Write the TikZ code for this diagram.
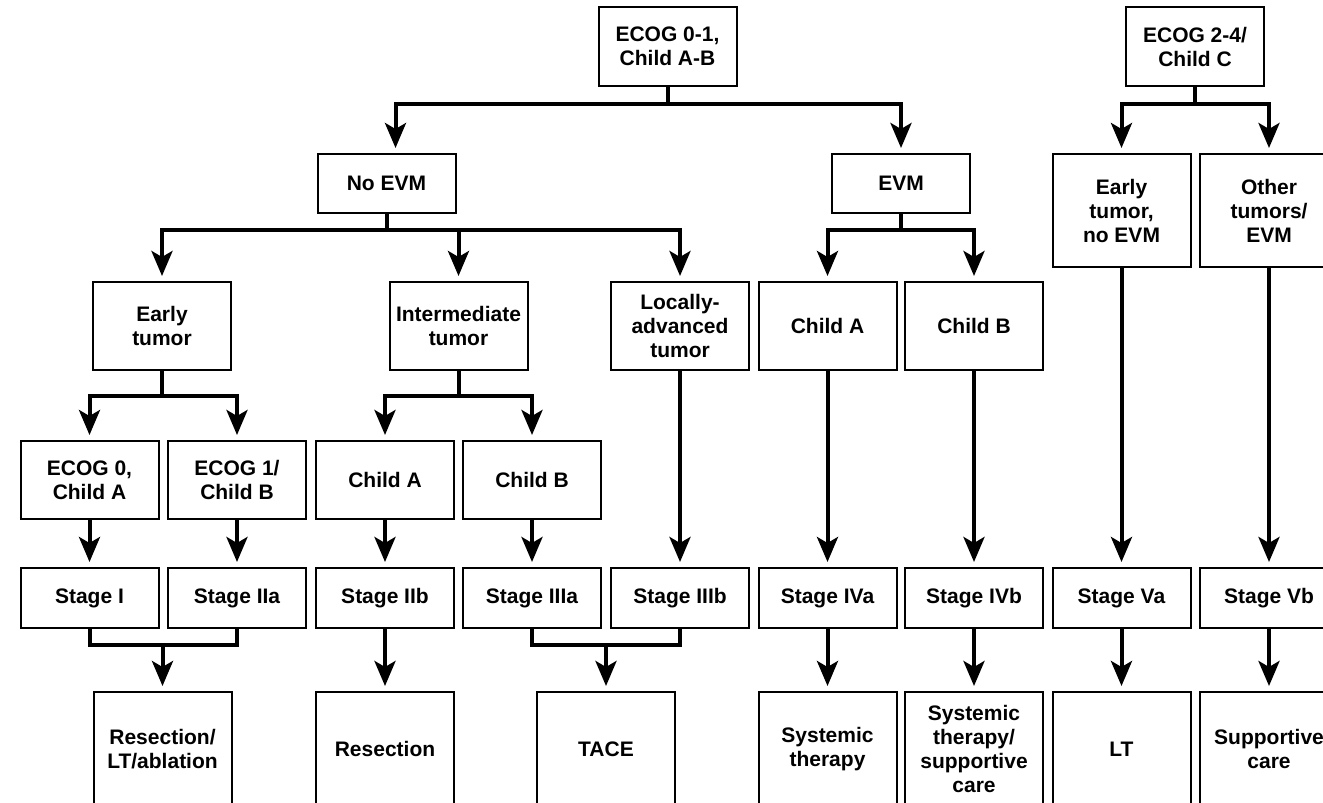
\documentclass[tikz,border=0pt]{standalone}
\usepackage{fontspec}
\setmainfont{Liberation Sans}
\usetikzlibrary{arrows.meta,calc}
\begin{document}
\begin{tikzpicture}[x=1pt,y=-1pt]
\tikzset{
  box/.style={draw, line width=2pt, rectangle, minimum width=138pt, inner sep=0pt,
    align=center, font=\fontsize{21}{24}\selectfont\bfseries},
  conn/.style={line width=4pt},
  arr/.style={conn, -{Stealth[length=25pt,width=21pt,inset=6pt]}, shorten >=5pt},
}
\fill[white] (0,0) rectangle (1323,803);
\useasboundingbox (0,0) rectangle (1323,803);
\clip (0,0) rectangle (1323,803);

% top level
\node[box, minimum height=79pt] (ecogA) at (667.5,46.5) {ECOG 0-1,\\Child A-B};
\node[box, minimum height=79pt] (ecogC) at (1195,46.5) {ECOG 2-4/\\Child C};

% second level
\node[box, minimum height=59pt] (noevm) at (386.5,183.5) {No EVM};
\node[box, minimum height=59pt] (evm) at (901,183.5) {EVM};
\node[box, minimum height=113pt] (earlyC) at (1121.5,210.5) {Early\\tumor,\\no EVM};
\node[box, minimum height=113pt] (other) at (1269,210.5) {Other\\tumors/\\EVM};

% tumour extent
\node[box, minimum height=88pt] (early) at (162,326) {Early\\tumor};
\node[box, minimum height=88pt] (inter) at (458.5,326) {Intermediate\\tumor};
\node[box, minimum height=88pt] (local) at (680,326) {Locally-\\advanced\\tumor};
\node[box, minimum height=88pt] (childA) at (827.5,326) {Child A};
\node[box, minimum height=88pt] (childB) at (974,326) {Child B};

% performance / liver function
\node[box, minimum height=78pt] (e0) at (89.5,480) {ECOG 0,\\Child A};
\node[box, minimum height=78pt] (e1) at (237,480) {ECOG 1/\\Child B};
\node[box, minimum height=78pt] (ca) at (385,480) {Child A};
\node[box, minimum height=78pt] (cb) at (532,480) {Child B};

% stages
\node[box, minimum height=60pt] (sI) at (89.5,598) {Stage I};
\node[box, minimum height=60pt] (sIIa) at (237,598) {Stage IIa};
\node[box, minimum height=60pt] (sIIb) at (385,598) {Stage IIb};
\node[box, minimum height=60pt] (sIIIa) at (532,598) {Stage IIIa};
\node[box, minimum height=60pt] (sIIIb) at (680,598) {Stage IIIb};
\node[box, minimum height=60pt] (sIVa) at (827.5,598) {Stage IVa};
\node[box, minimum height=60pt] (sIVb) at (974,598) {Stage IVb};
\node[box, minimum height=60pt] (sVa) at (1121.5,598) {Stage Va};
\node[box, minimum height=60pt] (sVb) at (1269,598) {Stage Vb};

% treatments
\node[box, minimum height=114pt] (res1) at (162.5,749) {Resection/\\LT/ablation};
\node[box, minimum height=114pt] (res) at (385,749) {Resection};
\node[box, minimum height=114pt] (tace) at (606,749) {TACE};
\node[box, minimum height=114pt] (sys) at (827.5,749) {Systemic\\therapy};
\node[box, minimum height=114pt] (syssup) at (974,749) {Systemic\\therapy/\\supportive\\care};
\node[box, minimum height=114pt] (lt) at (1121.5,749) {LT};
\node[box, minimum height=114pt] (sup) at (1269,749) {Supportive\\care};

% branching connectors
\draw[conn] (ecogA.south) -- ++(0,17) coordinate (j1);
\draw[arr] (j1) -| ([xshift=9pt]noevm.north);
\draw[arr] (j1) -| (evm.north);

\draw[conn] (ecogC.south) -- ++(0,17) coordinate (j4);
\draw[arr] (j4) -| (earlyC.north);
\draw[arr] (j4) -| (other.north);

\draw[conn] (noevm.south) -- ++(0,16) coordinate (j2);
\draw[arr] (j2) -| (early.north);
\draw[arr] (j2) -| (inter.north);
\draw[arr] (j2) -| (local.north);

\draw[conn] (evm.south) -- ++(0,16) coordinate (j3);
\draw[arr] (j3) -| (childA.north);
\draw[arr] (j3) -| (childB.north);

\draw[conn] (early.south) -- ++(0,25) coordinate (j5);
\draw[arr] (j5) -| (e0.north);
\draw[arr] (j5) -| (e1.north);

\draw[conn] (inter.south) -- ++(0,25) coordinate (j6);
\draw[arr] (j6) -| (ca.north);
\draw[arr] (j6) -| (cb.north);

% straight arrows into the stages
\draw[arr] (e0.south) -- (sI.north);
\draw[arr] (e1.south) -- (sIIa.north);
\draw[arr] (ca.south) -- (sIIb.north);
\draw[arr] (cb.south) -- (sIIIa.north);
\draw[arr] (local.south) -- (sIIIb.north);
\draw[arr] (childA.south) -- (sIVa.north);
\draw[arr] (childB.south) -- (sIVb.north);
\draw[arr] (earlyC.south) -- (sVa.north);
\draw[arr] (other.south) -- (sVb.north);

% stages to treatments
\draw[conn] (sI.south) -- ++(0,16) -| (sIIa.south);
\path (sI.south) ++(0,16) coordinate (u1);
\draw[arr] (u1 -| res1.north) -- (res1.north);

\draw[conn] (sIIIa.south) -- ++(0,16) -| (sIIIb.south);
\path (sIIIa.south) ++(0,16) coordinate (u2);
\draw[arr] (u2 -| tace.north) -- (tace.north);

\draw[arr] (sIIb.south) -- (res.north);
\draw[arr] (sIVa.south) -- (sys.north);
\draw[arr] (sIVb.south) -- (syssup.north);
\draw[arr] (sVa.south) -- (lt.north);
\draw[arr] (sVb.south) -- (sup.north);
\end{tikzpicture}
\end{document}
